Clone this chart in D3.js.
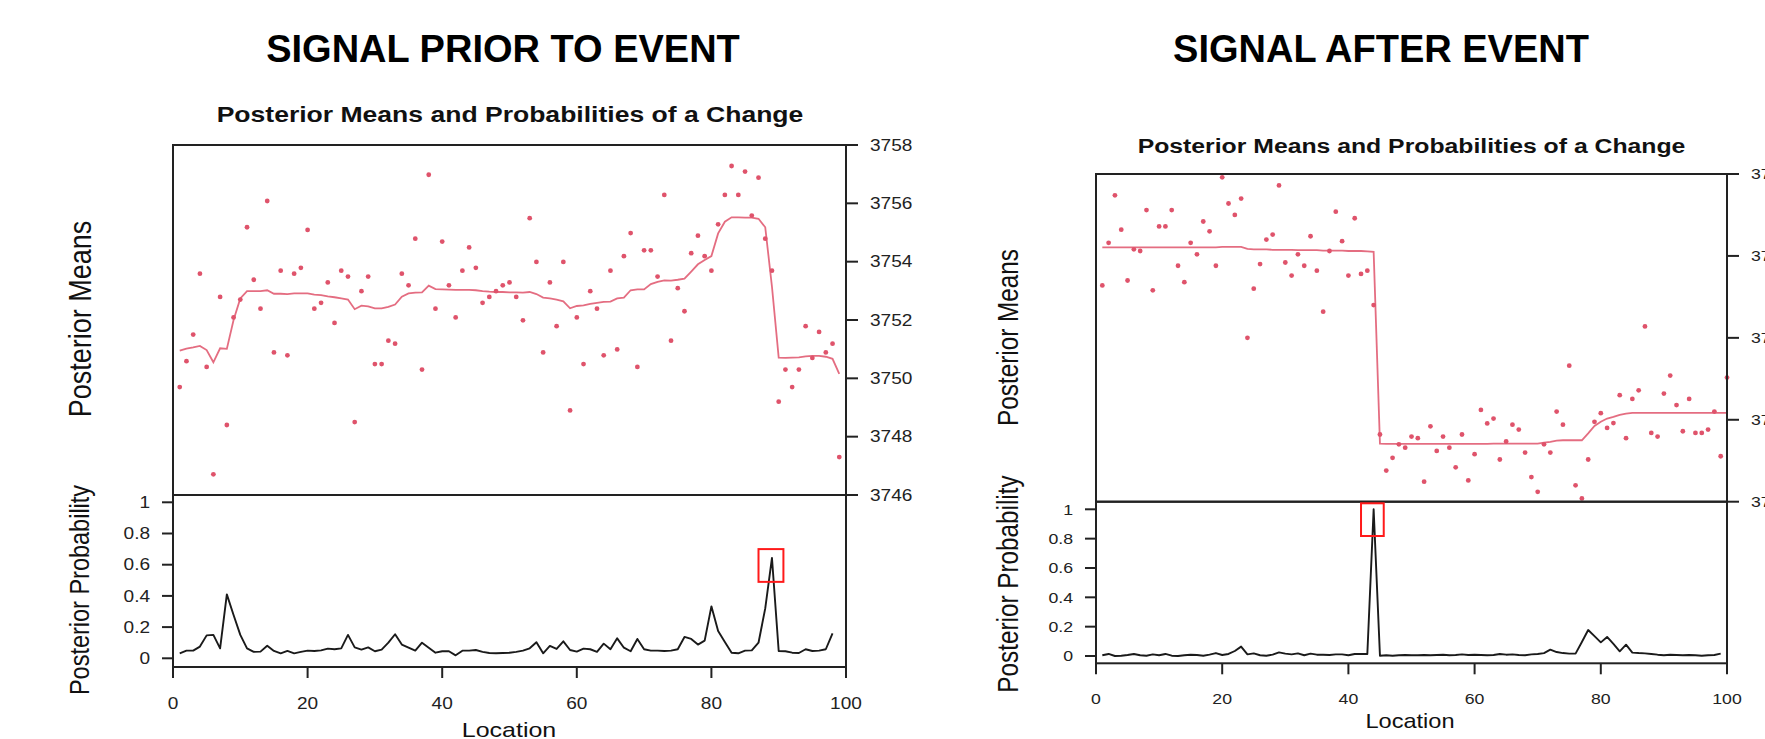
<!DOCTYPE html>
<html><head><meta charset="utf-8">
<script src="https://cdn.jsdelivr.net/npm/d3@7/dist/d3.min.js"></script>
<style>html,body{margin:0;padding:0;background:#fff;} svg{display:block;font-family:"Liberation Sans",Arial,Helvetica,sans-serif;}</style>
</head><body>
<svg id="chart" width="1765" height="739"></svg>
<script>
// ---------------- DATA ----------------
const xTicks = [0, 20, 40, 60, 80, 100];
const probTicks = [0, 0.2, 0.4, 0.6, 0.8, 1];
const probTickLabels = ["0", "0.2", "0.4", "0.6", "0.8", "1"];
const priorMeanTicks = [3746, 3748, 3750, 3752, 3754, 3756, 3758];
const afterMeanTicks = [3744, 3746, 3748, 3750, 3752];

// Signal prior to event: observations (locations 1..99)
const priorObs = [3749.70,3750.59,3751.50,3753.59,3750.39,3746.71,3752.79,3748.40,3752.09,3752.70,
3755.18,3753.38,3752.39,3756.08,3750.89,3753.69,3750.79,3753.59,3753.79,3755.09,
3752.39,3752.59,3753.29,3751.90,3753.69,3753.49,3748.50,3752.99,3753.49,3750.49,
3750.49,3751.29,3751.19,3753.59,3753.19,3754.79,3750.30,3756.98,3752.39,3754.69,
3753.19,3752.09,3753.69,3754.49,3753.79,3752.59,3752.79,3752.99,3753.19,3753.29,
3752.79,3751.99,3755.49,3753.99,3750.89,3753.29,3751.79,3753.99,3748.90,3752.09,
3750.49,3752.99,3752.39,3750.79,3753.69,3750.99,3754.19,3754.98,3750.39,3754.39,
3754.39,3753.49,3756.29,3751.29,3753.09,3752.30,3754.29,3754.89,3754.19,3753.69,
3755.28,3756.29,3757.28,3756.29,3757.09,3755.58,3756.88,3754.79,3753.69,3749.20,
3750.30,3749.70,3750.30,3751.79,3750.70,3751.59,3750.89,3751.19,3747.30];
// posterior means (locations 1..99)
const priorMean = [3750.95,3751.02,3751.06,3751.11,3750.97,3750.55,3751.03,3751.01,3752.00,3752.74,
3752.99,3752.99,3752.99,3753.02,3752.90,3752.90,3752.89,3752.91,3752.91,3752.91,
3752.87,3752.85,3752.81,3752.78,3752.74,3752.70,3752.37,3752.49,3752.47,3752.40,
3752.40,3752.45,3752.53,3752.80,3752.91,3752.94,3752.95,3753.18,3753.06,3753.05,
3753.04,3753.03,3753.03,3753.03,3753.02,3752.99,3752.97,3752.96,3752.96,3752.95,
3752.95,3752.94,3752.96,3752.89,3752.77,3752.74,3752.70,3752.64,3752.40,3752.48,
3752.50,3752.55,3752.59,3752.62,3752.63,3752.74,3752.77,3753.02,3753.05,3753.05,
3753.23,3753.31,3753.36,3753.35,3753.38,3753.42,3753.66,3753.91,3754.06,3754.19,
3754.97,3755.37,3755.52,3755.52,3755.51,3755.51,3755.47,3755.18,3753.14,3750.71,
3750.70,3750.71,3750.72,3750.75,3750.77,3750.77,3750.74,3750.67,3750.15];
// posterior probability of a change (locations 1..98)
const priorProb = [0.032,0.049,0.049,0.075,0.147,0.150,0.064,0.410,0.278,0.150,
0.064,0.041,0.043,0.081,0.047,0.032,0.047,0.032,0.041,0.049,
0.047,0.051,0.062,0.058,0.064,0.150,0.070,0.056,0.070,0.045,
0.056,0.100,0.154,0.088,0.068,0.049,0.100,0.068,0.036,0.045,
0.045,0.019,0.049,0.049,0.053,0.041,0.034,0.032,0.034,0.036,
0.041,0.049,0.064,0.103,0.032,0.079,0.060,0.109,0.053,0.043,
0.062,0.058,0.041,0.094,0.058,0.128,0.068,0.045,0.124,0.058,
0.049,0.049,0.047,0.049,0.058,0.137,0.124,0.088,0.113,0.333,
0.175,0.105,0.036,0.032,0.049,0.051,0.100,0.320,0.643,0.047,
0.045,0.036,0.034,0.058,0.047,0.049,0.058,0.160];
const priorBox = [87.0, 90.7, 0.49, 0.70];

// Signal after event: observations (locations 1..100)
const afterObs = [3749.28,3750.32,3751.48,3750.64,3749.40,3750.16,3750.12,3751.12,3749.16,3750.72,
3750.72,3751.12,3749.76,3749.36,3750.32,3750.04,3750.84,3750.60,3749.76,3751.92,
3751.28,3751.00,3751.40,3748.00,3749.20,3749.80,3750.40,3750.52,3751.72,3749.84,
3749.52,3750.04,3749.76,3750.48,3749.64,3748.64,3750.12,3751.08,3750.36,3749.52,
3750.92,3749.56,3749.64,3748.80,3745.64,3744.76,3745.07,3745.40,3745.32,3745.59,
3745.55,3744.49,3745.84,3745.24,3745.59,3745.32,3744.84,3745.64,3744.52,3745.16,
3746.24,3745.91,3746.03,3745.03,3745.47,3745.88,3745.76,3745.20,3744.60,3744.24,
3745.40,3745.20,3746.20,3745.88,3747.32,3744.40,3744.08,3745.03,3745.95,3746.16,
3745.80,3745.92,3746.60,3745.55,3746.51,3746.72,3748.28,3745.68,3745.59,3746.64,
3747.08,3746.36,3745.72,3746.51,3745.68,3745.68,3745.76,3746.20,3745.11,3747.03];
const afterMean = [3750.21,3750.21,3750.21,3750.21,3750.21,3750.21,3750.21,3750.21,3750.21,3750.21,
3750.21,3750.21,3750.21,3750.21,3750.21,3750.21,3750.21,3750.21,3750.21,3750.22,
3750.22,3750.22,3750.22,3750.17,3750.16,3750.16,3750.16,3750.15,3750.15,3750.15,
3750.15,3750.14,3750.14,3750.14,3750.14,3750.13,3750.13,3750.13,3750.13,3750.12,
3750.12,3750.12,3750.11,3750.10,3745.42,3745.41,3745.41,3745.41,3745.41,3745.41,
3745.41,3745.41,3745.41,3745.41,3745.41,3745.41,3745.41,3745.41,3745.41,3745.41,
3745.41,3745.41,3745.42,3745.42,3745.42,3745.42,3745.42,3745.42,3745.42,3745.42,
3745.44,3745.46,3745.49,3745.50,3745.50,3745.50,3745.50,3745.67,3745.85,3745.95,
3746.03,3746.07,3746.12,3746.15,3746.17,3746.17,3746.17,3746.17,3746.17,3746.17,
3746.17,3746.17,3746.17,3746.17,3746.17,3746.17,3746.17,3746.17,3746.17,3746.17];
const afterProb = [0.005,0.014,0.000,0.002,0.007,0.014,0.005,0.002,0.011,0.005,
0.014,0.002,0.000,0.005,0.009,0.007,0.002,0.009,0.020,0.007,
0.014,0.034,0.064,0.011,0.018,0.005,0.002,0.009,0.025,0.016,
0.011,0.018,0.005,0.016,0.009,0.009,0.007,0.011,0.011,0.005,
0.014,0.014,0.014,1.000,0.002,0.005,0.002,0.005,0.007,0.005,
0.005,0.007,0.005,0.007,0.009,0.005,0.007,0.011,0.007,0.009,
0.007,0.005,0.007,0.014,0.009,0.011,0.007,0.005,0.011,0.014,
0.020,0.043,0.027,0.020,0.016,0.016,0.095,0.177,0.135,0.093,
0.130,0.082,0.032,0.077,0.023,0.020,0.018,0.014,0.009,0.005,
0.009,0.007,0.005,0.007,0.005,0.002,0.005,0.007,0.016];
const afterBox = [42.0, 45.6, 0.818, 1.041];

// ---------------- DRAWING ----------------
const svg = d3.select("#chart");
svg.append("rect").attr("width", 1765).attr("height", 739).attr("fill", "#fff");

const RED = "#DF536B";
const INK = "#1a1a1a";

function stext(g, x, y, str, o) {
  let tr = `translate(${x},${y}) scale(${o.sx || 1},1)`;
  if (o.rot) tr += " rotate(-90)";
  return g.append("text").attr("transform", tr)
    .attr("text-anchor", o.anchor || "middle")
    .attr("dy", o.dy || 0)
    .attr("font-size", o.size)
    .attr("font-weight", o.weight || "normal")
    .attr("fill", o.fill || "#111")
    .text(str);
}

function panel(cfg) {
  const g = svg.append("g");
  const x = d3.scaleLinear().domain([0, 100]).range([cfg.x0, cfg.x1]);
  const yM = d3.scaleLinear().domain(cfg.meanDomain).range([cfg.upperBottom, cfg.upperTop]);
  const yP = d3.scaleLinear().domain([0, 1]).range([cfg.p0, cfg.p1]);

  // titles
  stext(g, cfg.titleX, 62, cfg.title, {size: 38, weight: "bold", fill: "#000"});
  stext(g, cfg.subX, cfg.subY, "Posterior Means and Probabilities of a Change",
        {size: cfg.subSize, weight: "bold", sx: cfg.sx, fill: "#111"});

  // points
  g.append("g").selectAll("circle").data(cfg.obs).join("circle")
    .attr("cx", (d, i) => x(i + 1)).attr("cy", d => yM(d))
    .attr("r", 2.4).attr("fill", RED);
  // posterior mean line
  g.append("path").datum(cfg.mean)
    .attr("d", d3.line().x((d, i) => x(i + 1)).y(d => yM(d)))
    .attr("fill", "none").attr("stroke", RED).attr("stroke-width", 1.8).attr("stroke-opacity", 0.85);
  // probability line
  g.append("path").datum(cfg.prob)
    .attr("d", d3.line().x((d, i) => x(i + 1)).y(d => yP(d)))
    .attr("fill", "none").attr("stroke", INK).attr("stroke-width", 1.9).attr("stroke-linejoin", "round");

  // frames
  const frame = (y0, y1) => g.append("rect").attr("x", cfg.x0).attr("y", y0)
    .attr("width", cfg.x1 - cfg.x0).attr("height", y1 - y0)
    .attr("fill", "none").attr("stroke", "#222").attr("stroke-width", 2);
  frame(cfg.upperTop, cfg.upperBottom);
  frame(cfg.upperBottom, cfg.lowerBottom);

  // right axis (posterior means)
  const ra = g.append("g");
  cfg.meanTicks.forEach(t => {
    ra.append("line").attr("x1", cfg.x1).attr("x2", cfg.x1 + 12)
      .attr("y1", yM(t)).attr("y2", yM(t)).attr("stroke", "#222").attr("stroke-width", 2);
    stext(ra, cfg.x1 + 24, yM(t), String(t), {size: cfg.tickSize, anchor: "start", sx: cfg.sx, dy: "0.36em", fill: "#222"});
  });
  ra.append("line").attr("x1", cfg.x1).attr("x2", cfg.x1)
    .attr("y1", yM(cfg.meanTicks[0])).attr("y2", yM(cfg.meanTicks[cfg.meanTicks.length - 1]))
    .attr("stroke", "#222").attr("stroke-width", 2);

  // left axis (probability)
  const la = g.append("g");
  probTicks.forEach((t, i) => {
    la.append("line").attr("x1", cfg.x0 - 11).attr("x2", cfg.x0)
      .attr("y1", yP(t)).attr("y2", yP(t)).attr("stroke", "#222").attr("stroke-width", 2);
    stext(la, cfg.x0 - 23, yP(t), probTickLabels[i], {size: cfg.tickSize, anchor: "end", sx: cfg.sx, dy: "0.36em", fill: "#222"});
  });
  la.append("line").attr("x1", cfg.x0).attr("x2", cfg.x0)
    .attr("y1", yP(0)).attr("y2", yP(1)).attr("stroke", "#222").attr("stroke-width", 2);

  // bottom axis
  const ba = g.append("g");
  xTicks.forEach(t => {
    ba.append("line").attr("x1", x(t)).attr("x2", x(t))
      .attr("y1", cfg.lowerBottom).attr("y2", cfg.lowerBottom + 11)
      .attr("stroke", "#222").attr("stroke-width", 2);
    stext(ba, x(t), cfg.xLabY, String(t), {size: cfg.tickSize, sx: cfg.sx, fill: "#222"});
  });

  // axis titles
  stext(g, cfg.locX, cfg.locY, "Location", {size: cfg.labSize, sx: cfg.sx, fill: "#111"});
  stext(g, cfg.ylabX, cfg.meansLabY, "Posterior Means", {size: cfg.meansLabSize, sx: cfg.sx, rot: true, dy: "0.36em", fill: "#111"});
  stext(g, cfg.ylabX, cfg.probLabY, "Posterior Probability", {size: cfg.probLabSize, sx: cfg.sx, rot: true, dy: "0.36em", fill: "#111"});

  // highlight box
  const b = cfg.box;
  g.append("rect").attr("x", x(b[0])).attr("y", yP(b[3]))
    .attr("width", x(b[1]) - x(b[0])).attr("height", yP(b[2]) - yP(b[3]))
    .attr("fill", "none").attr("stroke", "#ff1a1a").attr("stroke-width", 2);
}

panel({
  title: "SIGNAL PRIOR TO EVENT", titleX: 503,
  subX: 510, subY: 122, subSize: 22.3, sx: 1.19,
  x0: 173, x1: 846, upperTop: 145, upperBottom: 495, lowerBottom: 667,
  p0: 658.3, p1: 502.3,
  meanDomain: [3746, 3758], meanTicks: priorMeanTicks,
  obs: priorObs, mean: priorMean, prob: priorProb, box: priorBox,
  tickSize: 16, xLabY: 709,
  locX: 509, locY: 737, labSize: 21,
  ylabX: 79, meansLabSize: 27, probLabSize: 23.5, meansLabY: 319, probLabY: 590
});

panel({
  title: "SIGNAL AFTER EVENT", titleX: 1381,
  subX: 1411.5, subY: 153, subSize: 21, sx: 1.18,
  x0: 1096, x1: 1727, upperTop: 174, upperBottom: 501.7, lowerBottom: 663.3,
  p0: 656, p1: 509.3,
  meanDomain: [3744, 3752], meanTicks: afterMeanTicks,
  obs: afterObs, mean: afterMean, prob: afterProb, box: afterBox,
  tickSize: 15, xLabY: 703.5,
  locX: 1410, locY: 727.5, labSize: 20,
  ylabX: 1008, meansLabSize: 24.3, probLabSize: 24.3, meansLabY: 337.5, probLabY: 584
});
</script>
</body></html>
